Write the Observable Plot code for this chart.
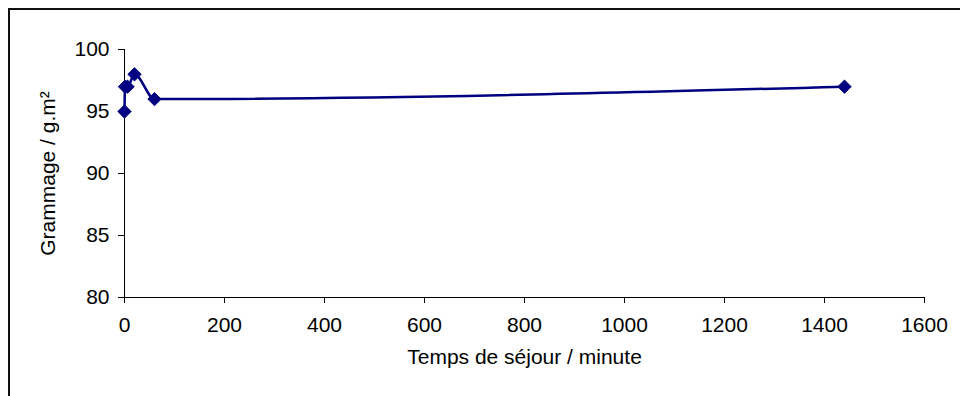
<!DOCTYPE html>
<html>
<head>
<meta charset="utf-8">
<script src="https://cdn.jsdelivr.net/npm/d3@7"></script>
<script src="https://cdn.jsdelivr.net/npm/@observablehq/plot@0.6"></script>
<style>
  html, body { margin: 0; padding: 0; background: #fff; }
  #wrap { position: relative; width: 960px; height: 396px; overflow: hidden; }
  #frame { position: absolute; left: 8px; top: 8px; width: 1000px; height: 1000px;
           border-top: 2px solid #111; border-left: 2px solid #111; pointer-events: none; }
  #chart { position: absolute; left: 0; top: 0; }
</style>
</head>
<body>
<div id="wrap"><div id="chart"></div><div id="frame"></div></div>
<script>
// Data
const times = [0, 1, 6, 20, 60, 1440];          // Temps de séjour (minute)
const grammage = [95, 97, 97, 98, 96, 97];      // Grammage (g.m²)
const xTicks = [0, 200, 400, 600, 800, 1000, 1200, 1400, 1600];
const yTicks = [80, 85, 90, 95, 100];
const xTitle = "Temps de séjour / minute";
const yTitle = "Grammage / g.m²";

const data = times.map((t, i) => ({t, g: grammage[i]}));

const font = "'Liberation Sans', Arial, sans-serif";

const chart = Plot.plot({
  width: 960,
  height: 396,
  marginLeft: 124,
  marginRight: 36,
  marginTop: 49,
  marginBottom: 99,
  style: {fontFamily: font, fontSize: "21px", color: "#000", background: "transparent"},
  x: {domain: [0, 1600]},
  y: {domain: [80, 100]},
  marks: [
    Plot.axisX({ticks: xTicks, tickSize: 6, tickPadding: 14, label: null, fontSize: 21, tickFormat: d => String(d)}),
    Plot.axisY({ticks: yTicks, tickSize: 6, tickPadding: 9, label: null, fontSize: 21, tickFormat: d => String(d)}),
    Plot.ruleX([0], {stroke: "#000", strokeWidth: 1}),
    Plot.ruleY([80], {stroke: "#000", strokeWidth: 1}),
    Plot.line(data, {x: "t", y: "g", stroke: "#000080", strokeWidth: 2.5, curve: "monotone-x"}),
    Plot.dot(data, {x: "t", y: "g", symbol: "diamond2", r: 6, fill: "#000080", stroke: "#000080", strokeWidth: 1}),
    Plot.text([xTitle], {frameAnchor: "bottom", dy: 66, fontSize: 21, fill: "#000", text: d => d}),
    Plot.text([yTitle], {frameAnchor: "left", textAnchor: "middle", dx: -76, rotate: -90, fontSize: 21, fill: "#000", text: d => d})
  ]
});
document.getElementById("chart").appendChild(chart);
</script>
</body>
</html>
